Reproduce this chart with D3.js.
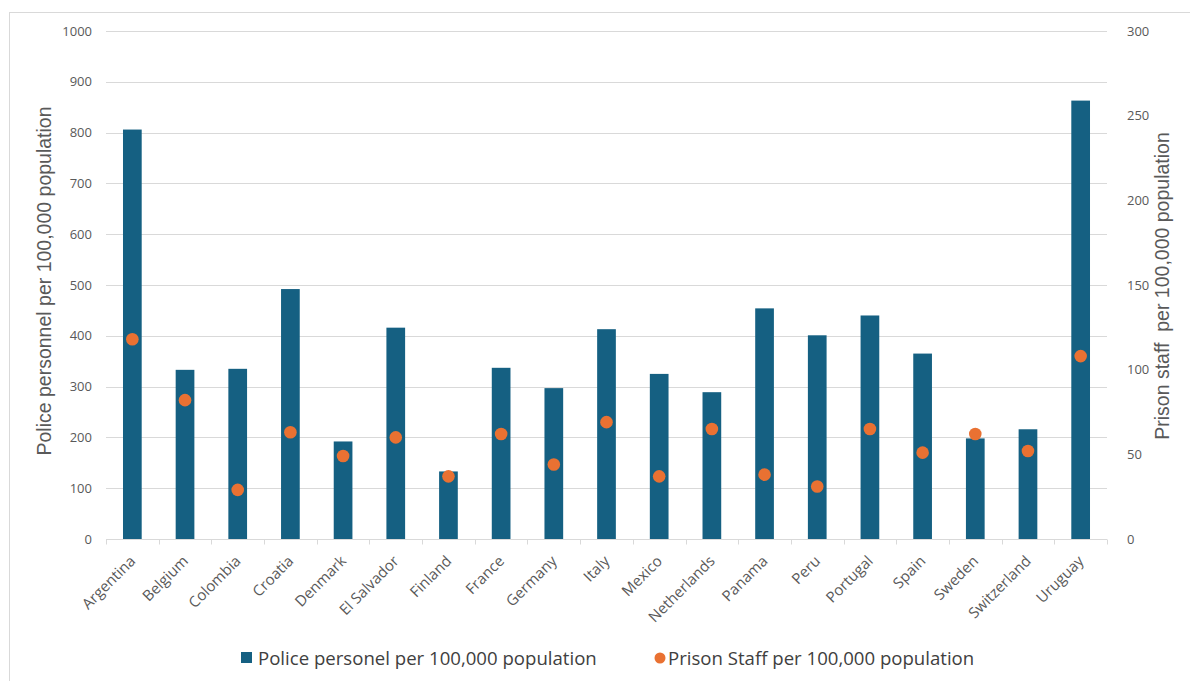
<!DOCTYPE html>
<html>
<head>
<meta charset="utf-8">
<script src="https://cdn.jsdelivr.net/npm/d3@7"></script>
<style>
  html, body { margin: 0; padding: 0; background: #fff; }
  svg { display: block; }
  .tick-label { font-family: "Open Sans", "Noto Sans", sans-serif; font-size: 13px; fill: #595959; }
  .cat-label { font-family: "Open Sans", "Noto Sans", sans-serif; font-size: 15px; fill: #595959; }
  .axis-title { font-family: "Liberation Sans", Arial, sans-serif; font-size: 19.5px; fill: #595959; }
  .legend-text { font-family: "Open Sans", "Noto Sans", sans-serif; font-size: 18.6px; fill: #404040; }
</style>
</head>
<body>
<svg id="chart" width="1190" height="681"></svg>
<script>
// Countries along the category axis
const countries = ["Argentina", "Belgium", "Colombia", "Croatia", "Denmark", "El Salvador",
  "Finland", "France", "Germany", "Italy", "Mexico", "Netherlands", "Panama", "Peru",
  "Portugal", "Spain", "Sweden", "Switzerland", "Uruguay"];

// Police personnel per 100,000 population (left axis)
const policeValues = [806, 333, 335, 492, 192, 416, 133, 337, 297, 413, 325, 289, 454, 401,
  440, 365, 198, 216, 863];

// Prison staff per 100,000 population (right axis)
const prisonValues = [118, 82, 29, 63, 49, 60, 37, 62, 44, 69, 37, 65, 38, 31, 65, 51, 62, 52, 108];

// Axis tick values
const leftTicks = [0, 100, 200, 300, 400, 500, 600, 700, 800, 900, 1000];
const rightTicks = [0, 50, 100, 150, 200, 250, 300];

const seriesNames = ["Police personel per 100,000 population", "Prison Staff per 100,000 population"];

const colors = { bar: "#156082", dot: "#E97132", grid: "#d9d9d9", frame: "#d9d9d9" };

const svg = d3.select("#chart");
const plot = { left: 106, right: 1107, top: 31, bottom: 539 };

// Outer chart frame
svg.append("rect")
  .attr("x", 9.5).attr("y", 12.5)
  .attr("width", 1200).attr("height", 700)
  .attr("fill", "#fff").attr("stroke", colors.frame).attr("stroke-width", 1);

const x = d3.scaleBand().domain(countries).range([plot.left, plot.right]).paddingInner(0).paddingOuter(0);
const yLeft = d3.scaleLinear().domain([0, 1000]).range([plot.bottom, plot.top]);
const yRight = d3.scaleLinear().domain([0, 300]).range([plot.bottom, plot.top]);

// Horizontal gridlines
svg.append("g").selectAll("line").data(leftTicks.filter(d => d > 0)).join("line")
  .attr("x1", plot.left).attr("x2", plot.right)
  .attr("y1", d => Math.round(yLeft(d)) + 0.5).attr("y2", d => Math.round(yLeft(d)) + 0.5)
  .attr("stroke", colors.grid).attr("stroke-width", 1);

// Left value axis
const leftAxis = svg.append("g").attr("transform", `translate(${plot.left - 14},0)`)
  .call(d3.axisLeft(yLeft).tickValues(leftTicks).tickSize(0).tickPadding(0).tickFormat(d3.format("d")));
leftAxis.select(".domain").remove();
leftAxis.selectAll("text").attr("class", "tick-label");

// Right value axis
const rightAxis = svg.append("g").attr("transform", `translate(${plot.right + 20},0)`)
  .call(d3.axisRight(yRight).tickValues(rightTicks).tickSize(0).tickPadding(0).tickFormat(d3.format("d")));
rightAxis.select(".domain").remove();
rightAxis.selectAll("text").attr("class", "tick-label");

// Bars
const barW = x.bandwidth() * 0.355;
svg.append("g").selectAll("rect").data(countries).join("rect")
  .attr("x", d => x(d) + (x.bandwidth() - barW) / 2)
  .attr("width", barW)
  .attr("y", (d, i) => yLeft(policeValues[i]))
  .attr("height", (d, i) => plot.bottom - yLeft(policeValues[i]))
  .attr("fill", colors.bar);

// Category axis line with tick marks between categories
const bottomY = Math.round(plot.bottom) + 0.5;
svg.append("line").attr("x1", plot.left).attr("x2", plot.right)
  .attr("y1", bottomY).attr("y2", bottomY).attr("stroke", colors.grid);
const boundaries = countries.map(c => x(c)).concat([plot.right]);
svg.append("g").selectAll("line").data(boundaries).join("line")
  .attr("x1", d => Math.round(d) + 0.5).attr("x2", d => Math.round(d) + 0.5)
  .attr("y1", bottomY).attr("y2", bottomY + 5).attr("stroke", colors.grid);

// Category labels rotated -45 degrees
svg.append("g").selectAll("text").data(countries).join("text")
  .attr("class", "cat-label")
  .attr("text-anchor", "end")
  .attr("transform", d => `translate(${x(d) + x.bandwidth() / 2 + 4},${plot.bottom + 23}) rotate(-45)`)
  .text(d => d);

// Prison staff markers
svg.append("g").selectAll("circle").data(countries).join("circle")
  .attr("cx", d => x(d) + x.bandwidth() / 2)
  .attr("cy", (d, i) => yRight(prisonValues[i]))
  .attr("r", 6.3)
  .attr("fill", colors.dot);

// Axis titles
svg.append("text").attr("class", "axis-title")
  .attr("text-anchor", "middle")
  .attr("transform", `translate(51,${(plot.top + plot.bottom) / 2 - 4}) rotate(-90)`)
  .text("Police personnel per 100,000 population");

svg.append("text").attr("class", "axis-title")
  .attr("text-anchor", "middle")
  .attr("xml:space", "preserve")
  .style("white-space", "pre")
  .attr("transform", `translate(1169,${(plot.top + plot.bottom) / 2 + 1}) rotate(-90)`)
  .text("Prison staff  per 100,000 population");

// Legend
const legend = svg.append("g");
legend.append("rect").attr("x", 241).attr("y", 652).attr("width", 11).attr("height", 11).attr("fill", colors.bar);
legend.append("text").attr("class", "legend-text").attr("x", 258).attr("y", 664.5).text(seriesNames[0]);
legend.append("circle").attr("cx", 660).attr("cy", 658).attr("r", 5.5).attr("fill", colors.dot);
legend.append("text").attr("class", "legend-text").attr("x", 668).attr("y", 664.5).text(seriesNames[1]);
</script>
</body>
</html>
